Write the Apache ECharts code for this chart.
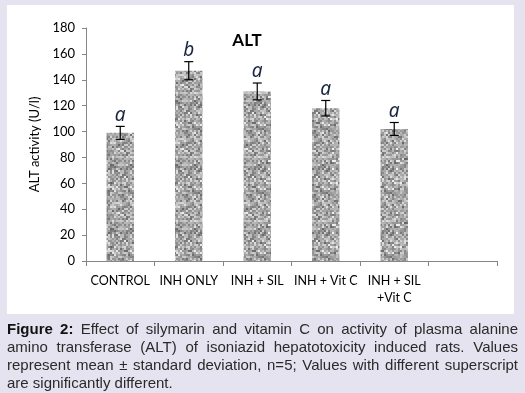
<!DOCTYPE html>
<html>
<head>
<meta charset="utf-8">
<script src="https://cdn.jsdelivr.net/npm/echarts@6/dist/echarts.min.js"></script>
<style>
html,body{margin:0;padding:0;background:#e5e3f0;}
#chart{width:525px;height:393px;}
</style>
</head>
<body>
<div id="chart"></div>
<script>
// ---- data ----
var categories = ['CONTROL', 'INH ONLY', 'INH + SIL', 'INH + Vit C', 'INH + SIL\n+Vit C', ''];
var means = [99, 147, 131, 118, 102];
var sds = [5, 7, 6.5, 6, 5];
var letters = ['a', 'b', 'a', 'a', 'a'];
var yTicks = [0, 20, 40, 60, 80, 100, 120, 140, 160, 180];
var titleText = 'ALT';
var yAxisName = 'ALT activity (U/l)';
var captionLines = [
  [['Figure 2:', true], ['Effect of silymarin and vitamin C on activity of plasma alanine', false]],
  [['amino transferase (ALT) of isoniazid hepatotoxicity induced rats. Values', false]],
  [['represent mean \u00b1 standard deviation, n=5; Values with different superscript', false]],
  [['are significantly different.', false]]
];

// ---- speckled texture (deterministic hash) ----
function hash(i, j) {
  var h = Math.imul(i, 0x27d4eb2d) ^ Math.imul(j + 0x9e37, 0x165667b1);
  h = Math.imul(h ^ (h >>> 15), 0x85ebca6b);
  h = Math.imul(h ^ (h >>> 13), 0xc2b2ae35);
  h = h ^ (h >>> 16);
  return (h >>> 0) / 4294967296;
}
var tex = document.createElement('canvas');
tex.width = 64; tex.height = 64;
var tctx = tex.getContext('2d');
var N = 32;
for (var i = 0; i < N; i++) {
  for (var j = 0; j < N; j++) {
    var r = (hash(i, j) + hash(i + 101, j + 57)) / 2;
    var g = Math.round(95 + r * 150);
    tctx.fillStyle = 'rgb(' + g + ',' + g + ',' + g + ')';
    tctx.fillRect(i * 2, j * 2, 2, 2);
  }
}

var chart = echarts.init(document.getElementById('chart'));

// ---- caption layout (justified) ----
var capLeft = 7, capRight = 518, capTop = 331, capStep = 18;
var mctx = document.createElement('canvas').getContext('2d');
var capFont = '15px "Liberation Sans", Arial, sans-serif';
var capBold = 'bold 15px "Liberation Sans", Arial, sans-serif';
var captionElems = [];
captionLines.forEach(function (line, li) {
  var words = [];
  line.forEach(function (seg) {
    seg[0].split(' ').forEach(function (w) { if (w) words.push([w, seg[1]]); });
  });
  var widths = words.map(function (w) {
    mctx.font = w[1] ? capBold : capFont;
    return mctx.measureText(w[0]).width;
  });
  var total = widths.reduce(function (a, b) { return a + b; }, 0);
  var last = li === captionLines.length - 1;
  mctx.font = capFont;
  var spaceW = mctx.measureText(' ').width;
  var gap = last ? spaceW : (capRight - capLeft - total) / (words.length - 1);
  var x = capLeft;
  words.forEach(function (w, k) {
    captionElems.push({
      type: 'text', left: x, top: capTop + li * capStep - 9,
      style: {
        text: w[0], fill: w[1] ? '#111' : '#2a2a2a',
        font: w[1] ? capBold : capFont
      }
    });
    x += widths[k] + gap;
  });
});

var option = {
  animation: false,
  backgroundColor: '#e5e3f0',
  title: {
    text: titleText, left: 242, top: 27, textAlign: 'center',
    textStyle: { fontFamily: 'Lato', fontWeight: 'bold', fontSize: 17, color: '#000' }
  },
  graphic: [{
    type: 'rect', shape: { x: 7, y: 5, width: 507, height: 309 },
    style: { fill: '#ffffff' }, z: -10, silent: true
  }].concat(captionElems),
  grid: { left: 86, right: 28, top: 28, bottom: 132 },
  xAxis: {
    type: 'category', data: categories, boundaryGap: true,
    axisLine: { lineStyle: { color: '#868686' } },
    axisTick: { show: true, interval: 0, length: 5, lineStyle: { color: '#868686' } },
    axisLabel: { interval: 0, color: '#000', fontFamily: 'Lato', fontSize: 12.5, margin: 11, lineHeight: 17 }
  },
  yAxis: {
    type: 'value', min: 0, max: 180, interval: 20,
    name: yAxisName, nameLocation: 'middle', nameGap: 45, nameRotate: 90,
    nameTextStyle: { fontFamily: 'Lato', fontSize: 13, color: '#000' },
    axisLine: { show: true, lineStyle: { color: '#868686' } },
    axisTick: { show: true, length: 4, lineStyle: { color: '#868686' } },
    splitLine: { show: false },
    axisLabel: {
      color: '#000', fontFamily: 'Lato', fontSize: 13, margin: 11,
      formatter: function (v) { return yTicks.indexOf(v) >= 0 ? String(v) : ''; }
    }
  },
  series: [{
    type: 'bar', data: means, barWidth: '40%',
    itemStyle: { color: { image: tex, repeat: 'repeat' } }
  }, {
    type: 'custom',
    data: means.map(function (m, i) { return [i, m, sds[i]]; }),
    renderItem: function (params, api) {
      var i = api.value(0), m = api.value(1), s = api.value(2);
      var top = api.coord([i, m + s]);
      var bot = api.coord([i, m - s]);
      var hw = 4.5;
      return {
        type: 'group', children: [
          { type: 'line', shape: { x1: top[0], y1: top[1], x2: bot[0], y2: bot[1] }, style: { stroke: '#000', lineWidth: 1.2 } },
          { type: 'line', shape: { x1: top[0] - hw, y1: top[1], x2: top[0] + hw, y2: top[1] }, style: { stroke: '#000', lineWidth: 1.2 } },
          { type: 'line', shape: { x1: bot[0] - hw, y1: bot[1], x2: bot[0] + hw, y2: bot[1] }, style: { stroke: '#000', lineWidth: 1.2 } },
          { type: 'text', x: top[0], y: top[1] - 11, style: {
              text: letters[params.dataIndex], fill: '#1a2440',
              font: 'italic 19px "Noto Sans", "Liberation Sans", sans-serif',
              textAlign: 'center', textVerticalAlign: 'middle' } }
        ]
      };
    },
    z: 5
  }]
};
chart.setOption(option);
</script>
</body>
</html>
